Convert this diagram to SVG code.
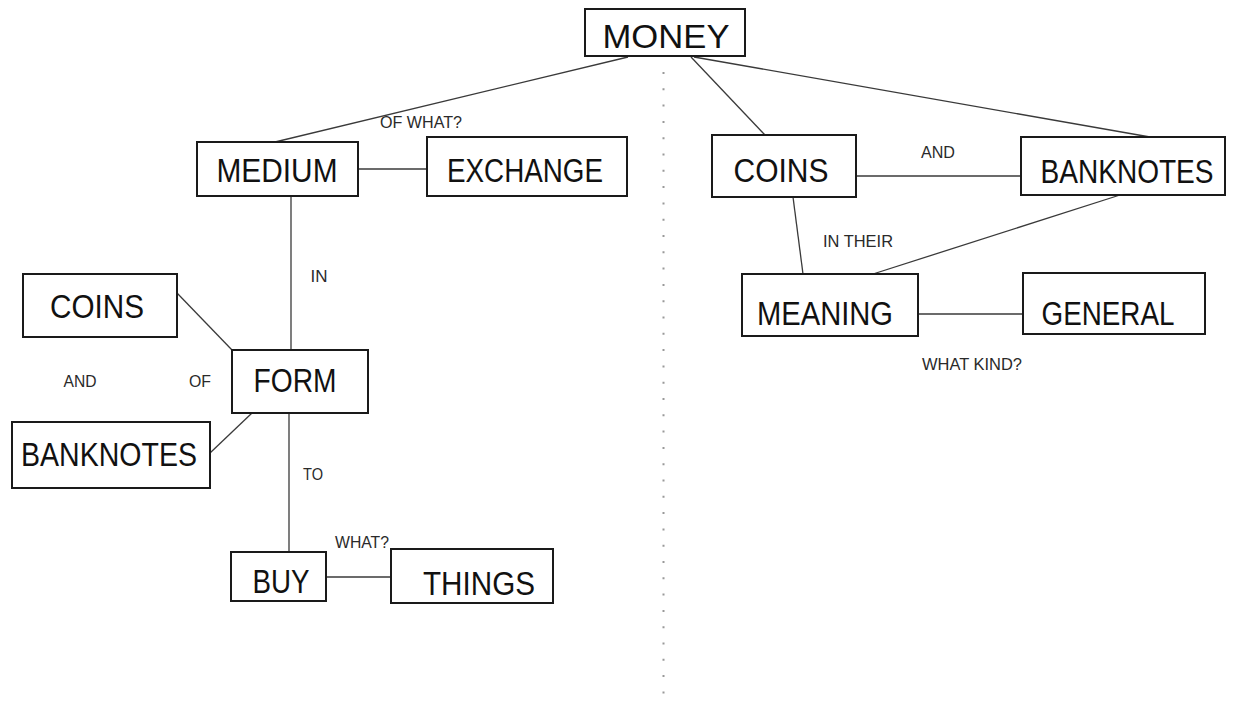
<svg xmlns="http://www.w3.org/2000/svg" width="1241" height="709" viewBox="0 0 1241 709">
<style>
.box{fill:#fff;stroke:#1a1a1a;stroke-width:2}
.nt{font-family:"Liberation Sans",Arial,sans-serif;font-size:34px;fill:#111;text-anchor:middle}
.lb{font-family:"Liberation Sans",Arial,sans-serif;font-size:16px;fill:#2a2a2a;text-anchor:middle}
.ln{stroke:#3a3a3a;stroke-width:1.3;fill:none}
</style>
<rect width="1241" height="709" fill="#fff"/>
<line x1="663.5" y1="72" x2="663.5" y2="695" stroke="#999" stroke-width="2" stroke-dasharray="2 14.3"/>
<g id="connectors">
<line class="ln" x1="628" y1="57" x2="275" y2="142"/>
<line class="ln" x1="691" y1="57" x2="765" y2="135"/>
<line class="ln" x1="694" y1="57" x2="1150" y2="137"/>
<line class="ln" x1="358" y1="169" x2="427" y2="169"/>
<line class="ln" x1="291" y1="196" x2="291" y2="350"/>
<line class="ln" x1="177" y1="293" x2="232" y2="350"/>
<line class="ln" x1="252" y1="413" x2="210" y2="453"/>
<line class="ln" x1="289" y1="413" x2="289" y2="552"/>
<line class="ln" x1="326" y1="577" x2="391" y2="577"/>
<line class="ln" x1="856" y1="176" x2="1021" y2="176"/>
<line class="ln" x1="793" y1="197" x2="803" y2="274"/>
<line class="ln" x1="1120" y1="195" x2="873" y2="274"/>
<line class="ln" x1="918" y1="314" x2="1023" y2="314"/>
<text class="lb" x="421" y="128" textLength="82" lengthAdjust="spacingAndGlyphs">OF WHAT?</text>
<text class="lb" x="938" y="158" textLength="34" lengthAdjust="spacingAndGlyphs">AND</text>
<text class="lb" x="319" y="282" textLength="17" lengthAdjust="spacingAndGlyphs">IN</text>
<text class="lb" x="80" y="387" textLength="33" lengthAdjust="spacingAndGlyphs">AND</text>
<text class="lb" x="200" y="387" textLength="22" lengthAdjust="spacingAndGlyphs">OF</text>
<text class="lb" x="313" y="480" textLength="20" lengthAdjust="spacingAndGlyphs">TO</text>
<text class="lb" x="362" y="548" textLength="54" lengthAdjust="spacingAndGlyphs">WHAT?</text>
<text class="lb" x="972" y="370" textLength="100" lengthAdjust="spacingAndGlyphs">WHAT KIND?</text>
<text class="lb" x="858" y="247" textLength="70" lengthAdjust="spacingAndGlyphs">IN THEIR</text>
</g>
<g id="money"><rect class="box" x="585" y="9" width="160" height="47"/><text class="nt" x="666" y="48" font-size="37" textLength="127" lengthAdjust="spacingAndGlyphs">MONEY</text></g>
<g id="medium"><rect class="box" x="197" y="142" width="161" height="54"/><text class="nt" x="277" y="182" textLength="121" lengthAdjust="spacingAndGlyphs">MEDIUM</text></g>
<g id="exchange"><rect class="box" x="427" y="137" width="200" height="59"/><text class="nt" x="525" y="182" textLength="156" lengthAdjust="spacingAndGlyphs">EXCHANGE</text></g>
<g id="coins-right"><rect class="box" x="712" y="135" width="144" height="62"/><text class="nt" x="781" y="182" textLength="95" lengthAdjust="spacingAndGlyphs">COINS</text></g>
<g id="banknotes-right"><rect class="box" x="1021" y="137" width="204" height="58"/><text class="nt" x="1127" y="183" font-size="31" textLength="173" lengthAdjust="spacingAndGlyphs">BANKNOTES</text></g>
<g id="meaning"><rect class="box" x="742" y="274" width="176" height="62"/><text class="nt" x="825" y="325" textLength="136" lengthAdjust="spacingAndGlyphs">MEANING</text></g>
<g id="general"><rect class="box" x="1023" y="273" width="182" height="61"/><text class="nt" x="1108" y="325" textLength="133" lengthAdjust="spacingAndGlyphs">GENERAL</text></g>
<g id="coins-left"><rect class="box" x="23" y="274" width="154" height="63"/><text class="nt" x="97" y="318" textLength="94" lengthAdjust="spacingAndGlyphs">COINS</text></g>
<g id="form"><rect class="box" x="232" y="350" width="136" height="63"/><text class="nt" x="295" y="392" textLength="83" lengthAdjust="spacingAndGlyphs">FORM</text></g>
<g id="banknotes-left"><rect class="box" x="12" y="422" width="198" height="66"/><text class="nt" x="109" y="466" font-size="31" textLength="176" lengthAdjust="spacingAndGlyphs">BANKNOTES</text></g>
<g id="buy"><rect class="box" x="231" y="552" width="95" height="49"/><text class="nt" x="281" y="593" textLength="57" lengthAdjust="spacingAndGlyphs">BUY</text></g>
<g id="things"><rect class="box" x="391" y="549" width="162" height="54"/><text class="nt" x="479" y="595" textLength="112" lengthAdjust="spacingAndGlyphs">THINGS</text></g>
</svg>
